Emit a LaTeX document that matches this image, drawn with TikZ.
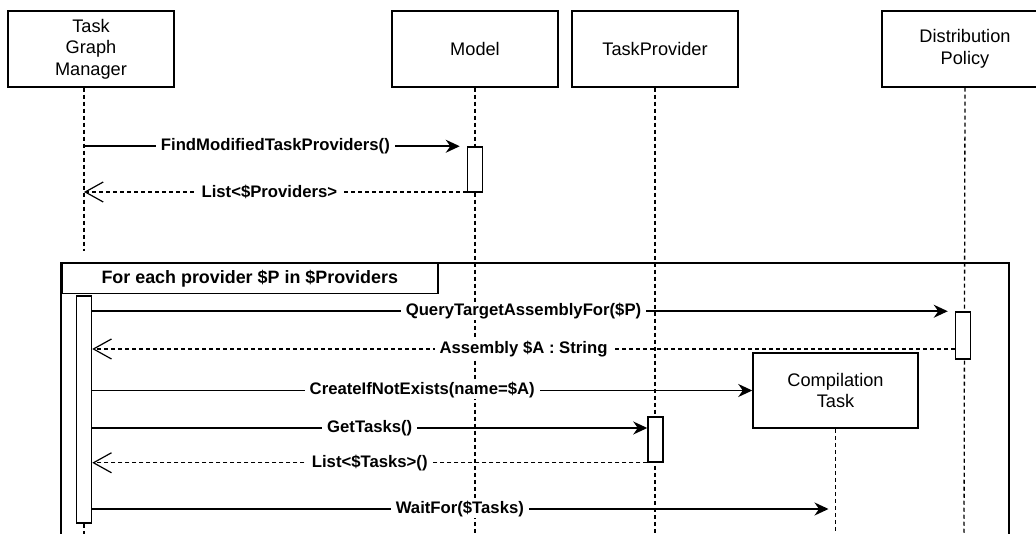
\documentclass[tikz,border=0pt]{standalone}
\usepackage{fontspec}
\setmainfont{Liberation Sans}
\usetikzlibrary{arrows.meta}
\begin{document}
\begin{tikzpicture}[x=1pt,y=-1pt,
  actor/.style={draw, line width=1.5pt, fill=white, minimum width=166pt, minimum height=76pt, align=center, font=\fontsize{18.2}{21.5}\selectfont, inner sep=0pt},
  actbox/.style={draw, line width=1.5pt, fill=white, minimum width=15pt, inner sep=0pt},
  life/.style={line width=1.3pt, dash pattern=on 4pt off 3pt},
  msg/.style={line width=1.5pt, -{Stealth[length=14pt,width=13pt,inset=4.5pt]}},
  ret/.style={line width=1.2pt, dash pattern=on 4pt off 3pt, -{Straight Barb[length=18pt,width=20pt,line width=1.2pt]}},
  lbl/.style={fill=white, font=\fontsize{16.7}{20}\selectfont\bfseries, inner xsep=5pt, inner ysep=1pt},
]
\useasboundingbox (0,0) rectangle (1036,534);
\clip (0,0) rectangle (1036,534);
\fill[white] (0,0) rectangle (1036,534);

% actors
\node[actor] (tgm) at (91,49) {Task\\Graph\\Manager};
\node[actor] (model) at (475,49) {Model};
\node[actor] (tp) at (655,49) {TaskProvider};
\node[actor] (dp) at (965,49) {Distribution\\Policy};

% message y-levels
\coordinate (y2) at (0,349);
\coordinate (y4) at (0,428);
\coordinate (y6) at (0,509);
\coordinate (yret1) at (0,192);

% x of the task graph manager lifeline
\coordinate (tgmx) at (84,0);

% lifelines
\draw[life] (tgm.south -| tgmx) -- (84,251);
\draw[life] (model.south) -- (475,540);
\draw[life] (tp.south) -- (655,540);
\draw[life] (dp.south) -- (964,540);

% frame
\draw[line width=1.5pt] (61,263) rectangle (1009,560);
\node[draw, line width=1.5pt, fill=white, anchor=north west, minimum width=376pt, minimum height=30pt, inner sep=0pt,
  font=\fontsize{17.9}{20}\selectfont\bfseries] (hdr) at (61,263) {For each provider \$P in \$Providers};

% activations
\node[actbox, minimum height=227pt] (tact) at (84,409.5) {};
\draw[life] (tact.south) -- (84,540);
\node[actbox, minimum height=45pt] (mact) at (475,169.5) {};
\node[actbox, minimum height=47pt] (dact) at (963,335.5) {};
\node[actbox, minimum height=45pt] (pact) at (655.5,439.5) {};

% compilation task
\node[actor, minimum width=165pt, minimum height=75pt] (comp) at (835.5,390.5) {Compilation\\Task};
\draw[life] (comp.south) -- (835.5,540);

% messages
\draw[msg, shorten >=7pt] (tgmx |- mact.north west) -- (mact.north west)
  node[lbl, midway] {FindModifiedTaskProviders()};
\draw[ret] (mact.west |- yret1) -- (tgmx |- yret1)
  node[lbl, midway, xshift=-6pt] {List<\$Providers>};

\draw[msg, shorten >=7pt] (tact.east |- dact.north west) -- (dact.north west)
  node[lbl, midway] {QueryTargetAssemblyFor(\$P)};
\draw[ret] (dact.west |- y2) -- (tact.east |- y2)
  node[lbl, midway] {Assembly \$A : String};

\draw[msg] (tact.east |- comp.west) -- (comp.west)
  node[lbl, midway] {CreateIfNotExists(name=\$A)};
\draw[msg] (tact.east |- y4) -- (pact.west |- y4)
  node[lbl, midway] {GetTasks()};
\draw[ret] (pact.south west) -- (tact.east |- pact.south west)
  node[lbl, midway] {List<\$Tasks>()};

\draw[msg, shorten >=7pt] (tact.east |- y6) -- (comp.south |- y6)
  node[lbl, midway, xshift=-4pt] {WaitFor(\$Tasks)};
\end{tikzpicture}
\end{document}
